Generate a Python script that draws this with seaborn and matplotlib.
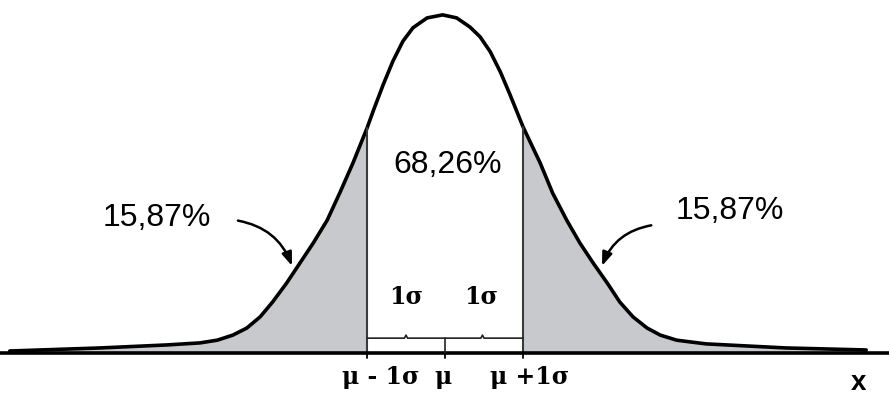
import numpy as np
import matplotlib
matplotlib.use('Agg')
import matplotlib.pyplot as plt
import seaborn as sns

# curve: x in sigma units, height relative to the peak
curve_x = [-5.58, -4.42, -3.56, -3.14, -2.92, -2.72, -2.54, -2.37, -2.21, -2.03,
           -1.86, -1.69, -1.51, -1.35, -1.18, -1.00, -0.92, -0.79, -0.67, -0.54,
           -0.41, -0.23, -0.03, 0.15, 0.32, 0.45, 0.58, 0.71, 0.83, 1.00,
           1.22, 1.38, 1.56, 1.73, 1.90, 2.08, 2.24, 2.41, 2.59, 2.76,
           2.97, 3.14, 3.35, 4.37, 5.40]
curve_h = [0.006, 0.015, 0.024, 0.030, 0.038, 0.053, 0.074, 0.107, 0.151, 0.207,
           0.266, 0.325, 0.393, 0.473, 0.562, 0.665, 0.716, 0.795, 0.862, 0.922,
           0.962, 0.991, 1.000, 0.991, 0.964, 0.935, 0.891, 0.831, 0.766, 0.669,
           0.562, 0.473, 0.393, 0.325, 0.266, 0.207, 0.151, 0.107, 0.074, 0.053,
           0.038, 0.033, 0.027, 0.015, 0.009]

tail_label = '15,87%'
center_label = '68,26%'
sigma_label = '1\u03c3'
tick_pos = [-1, 0, 1]
tick_labels = ['\u03bc - 1\u03c3', '\u03bc', '\u03bc +1\u03c3']

sns.set_style('white')
plt.rcParams['font.family'] = ['Liberation Sans', 'DejaVu Sans']
serif = ['DejaVu Serif']

fig = plt.figure(figsize=(8.89, 3.98), dpi=100)
ax = fig.add_axes([0, 0, 1, 1])

cx = np.array(curve_x)
ch = np.array(curve_h)

# shaded tails
ax.fill_between(cx, 0, ch, where=cx <= -1, color='#c8c9cd', lw=0)
ax.fill_between(cx, 0, ch, where=cx >= 1, color='#c8c9cd', lw=0)

sns.lineplot(x=cx, y=ch, ax=ax, color='black', lw=2.6)

# limits of the central band
for b in [-1, 1]:
    hb = ch[np.argmin(np.abs(cx - b))]
    ax.plot([b, b], [0, hb], color='#3a3a3a', lw=1.5)

# baseline and ticks
ax.axhline(0, color='black', lw=2.6)
for t in tick_pos:
    ax.plot([t, t], [0, -0.014], color='black', lw=1.3)

# bracket under the two sigmas
ax.plot([-1, -0.52, -0.5, -0.48, 0, 0.46, 0.48, 0.5, 1],
        [0.044, 0.044, 0.053, 0.044, 0.044, 0.044, 0.053, 0.044, 0.044],
        color='#222222', lw=1.2)
ax.plot([0, 0], [0, 0.044], color='#222222', lw=1.2)

# text
ax.text(-3.70, 0.40, tail_label, fontsize=23, color='black', ha='center', va='center')
ax.text(3.65, 0.42, tail_label, fontsize=23, color='black', ha='center', va='center')
ax.text(0.03, 0.556, center_label, fontsize=23, color='black', ha='center', va='center')
for sx in [-0.5, 0.46]:
    ax.text(sx, 0.166, sigma_label, fontsize=17, fontweight='bold', color='black',
            family=serif, ha='center', va='center')
for lx, lab in zip([-0.83, -0.03, 1.08], tick_labels):
    ax.text(lx, -0.072, lab, fontsize=17, fontweight='bold', color='black',
            family=serif, ha='center', va='center')
ax.text(5.30, -0.088, 'x', fontsize=20, fontweight='bold', color='black',
        ha='center', va='center')

# curved arrows
ax.annotate('', xy=(-1.95, 0.25), xytext=(-2.69, 0.393),
            arrowprops=dict(arrowstyle='-|>,head_length=0.8,head_width=0.3',
                            connectionstyle='arc3,rad=-0.3', color='black', lw=1.8))
ax.annotate('', xy=(2.0, 0.25), xytext=(2.68, 0.379),
            arrowprops=dict(arrowstyle='-|>,head_length=0.8,head_width=0.3',
                            connectionstyle='arc3,rad=0.3', color='black', lw=1.8))

ax.set_xlim(-5.705, 5.692)
ax.set_ylim(-0.133, 1.044)
ax.axis('off')

fig.savefig('out.png', dpi=100)
